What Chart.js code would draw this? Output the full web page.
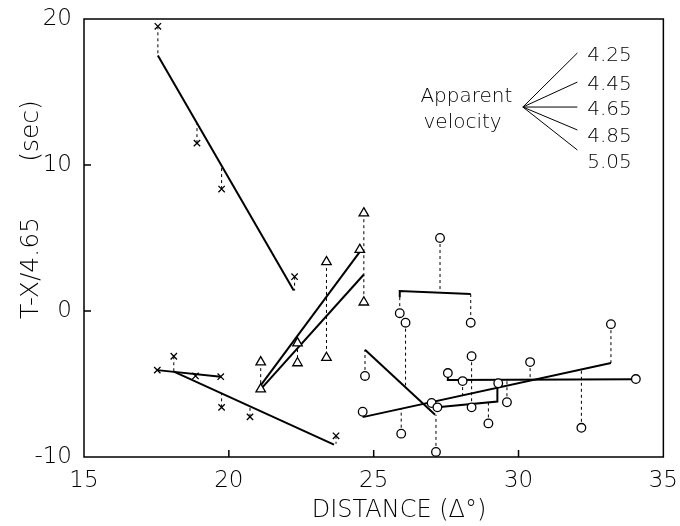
<!DOCTYPE html>
<html>
<head>
<meta charset="utf-8">
<script src="https://cdn.jsdelivr.net/npm/chart.js@4/dist/chart.umd.min.js"></script>
<style>body{margin:0;background:#fff}</style>
</head>
<body>
<canvas id="myChart" width="680" height="526"></canvas>
<script>
let crossX = [17.55, 18.9, 19.75, 22.27, 17.53, 18.1, 18.85, 19.72, 19.75, 20.73, 23.7];
let crossY = [19.5, 11.5, 8.35, 2.35, -4.05, -3.1, -4.45, -4.5, -6.6, -7.25, -8.55];

let triX = [21.1, 21.1, 22.37, 22.37, 23.37, 23.37, 24.52, 24.66, 24.66];
let triY = [-3.5, -5.35, -2.2, -3.56, 3.36, -3.2, 4.2, 6.7, 0.6];

let circX = [25.9, 26.1, 27.29, 28.35, 24.7, 24.62, 25.95, 27.15, 27.0, 27.2, 27.56, 28.07, 28.38, 28.38, 28.96, 29.3, 29.6, 30.4, 32.17, 33.19, 34.05];
let circY = [-0.15, -0.8, 5.0, -0.8, -4.45, -6.9, -8.4, -9.65, -6.3, -6.6, -4.25, -4.8, -3.1, -6.6, -7.7, -4.95, -6.25, -3.5, -8.0, -0.9, -4.66];

// fitted travel-time branches (solid)
let fitLines = [
  [[17.55, 17.5], [22.24, 1.4]],
  [[17.53, -4.05], [19.72, -4.5]],
  [[18.1, -4.15], [23.63, -9.15]],
  [[21.1, -5.1], [24.52, 4.05]],
  [[21.15, -5.25], [24.66, 2.5]],
  [[25.9, 0.95], [25.9, 1.37], [28.35, 1.16]],
  [[24.7, -2.65], [27.12, -7.1]],
  [[24.62, -7.27], [33.19, -3.56]],
  [[27.2, -6.6], [29.27, -6.2], [29.27, -4.9]],
  [[27.56, -4.3], [27.56, -4.72], [34.05, -4.68]]
];

// residual connectors (dashed): x, from y, to y
let connX = [17.55, 18.9, 19.75, 22.27, 18.1, 19.75, 20.73, 23.7, 21.1, 22.37, 23.37, 24.66, 25.9, 28.35, 27.29, 24.7, 27.15, 26.1, 25.95, 33.19, 32.17, 30.4, 28.07, 28.38, 28.96, 29.6];
let connFrom = [19.5, 11.5, 8.35, 2.35, -3.1, -6.6, -7.25, -8.55, -3.5, -2.2, 3.36, 6.7, 0.95, 1.16, 5.0, -4.45, -9.65, -0.8, -8.4, -0.9, -8.0, -3.5, -4.8, -3.1, -7.7, -6.25];
let connTo = [17.5, 12.85, 9.95, 1.4, -4.15, -5.65, -6.55, -9.1, -5.1, -3.56, -3.2, 0.6, -0.15, -0.8, 1.25, -2.65, -7.1, -5.1, -6.7, -3.56, -4.0, -4.77, -5.75, -6.6, -6.3, -4.8];

// apparent velocity fan
let velLabels = ['4.25', '4.45', '4.65', '4.85', '5.05'];
let fanOrigin = [30.15, 13.97];
let fanEndX = 32.03;
let fanEndY = [17.67, 15.68, 13.97, 12.4, 11.03];
let velLabelX = 32.37;
let velLabelY = [17.47, 15.48, 13.77, 11.92, 10.14];

let fontFamily = "'DejaVu Sans', sans-serif";
let fontWeight = 200;

let datasets = [];
datasets.push({
  data: crossX.map((v, i) => ({x: v, y: crossY[i]})),
  pointStyle: 'crossRot', pointRadius: 4.5, borderColor: '#000', borderWidth: 1.3, showLine: false
});
datasets.push({
  data: triX.map((v, i) => ({x: v, y: triY[i]})),
  pointStyle: 'triangle', pointRadius: 5.5, borderColor: '#000', backgroundColor: '#fff', borderWidth: 1.3, showLine: false
});
datasets.push({
  data: circX.map((v, i) => ({x: v, y: circY[i]})),
  pointStyle: 'circle', pointRadius: 4.3, borderColor: '#000', backgroundColor: '#fff', borderWidth: 1.3, showLine: false
});
fitLines.forEach(seg => {
  datasets.push({
    data: seg.map(p => ({x: p[0], y: p[1]})),
    showLine: true, borderColor: '#000', borderWidth: 2, pointRadius: 0
  });
});
connX.forEach((v, i) => {
  datasets.push({
    data: [{x: v, y: connFrom[i]}, {x: v, y: connTo[i]}],
    showLine: true, borderColor: '#000', borderWidth: 1, borderDash: [3, 3], pointRadius: 0
  });
});
fanEndY.forEach(v => {
  datasets.push({
    data: [{x: fanOrigin[0], y: fanOrigin[1]}, {x: fanEndX, y: v}],
    showLine: true, borderColor: '#000', borderWidth: 1, pointRadius: 0
  });
});

let annot = {
  id: 'annot',
  afterDraw(chart) {
    let ctx = chart.ctx;
    let a = chart.chartArea;
    let xs = chart.scales.x, ys = chart.scales.y;
    ctx.save();
    ctx.strokeStyle = '#000';
    ctx.lineWidth = 1.5;
    ctx.strokeRect(a.left, a.top, a.right - a.left, a.bottom - a.top);
    ctx.beginPath();
    xs.ticks.forEach(t => {
      if (t.value > xs.min && t.value < xs.max) {
        let px = xs.getPixelForValue(t.value);
        ctx.moveTo(px, a.bottom); ctx.lineTo(px, a.bottom - 7);
      }
    });
    ys.ticks.forEach(t => {
      if (t.value > ys.min && t.value < ys.max) {
        let py = ys.getPixelForValue(t.value);
        ctx.moveTo(a.left, py); ctx.lineTo(a.left + 7, py);
      }
    });
    ctx.stroke();

    ctx.fillStyle = '#000';
    ctx.font = fontWeight + ' 20px ' + fontFamily;
    ctx.textBaseline = 'middle';
    ctx.textAlign = 'left';
    velLabels.forEach((s, i) => {
      ctx.fillText(s, xs.getPixelForValue(velLabelX), ys.getPixelForValue(velLabelY[i]));
    });
    ctx.textAlign = 'center';
    ctx.fillText('Apparent', xs.getPixelForValue(28.2), ys.getPixelForValue(14.66));
    ctx.fillText('velocity', xs.getPixelForValue(28.07), ys.getPixelForValue(12.88));

    ctx.font = fontWeight + ' 24px ' + fontFamily;
    ctx.fillText('DISTANCE (\u0394\u00b0)', 399, 511);
    ctx.font = fontWeight + ' 25px ' + fontFamily;
    ctx.translate(31, 0);
    ctx.rotate(-Math.PI / 2);
    ctx.fillText('T-X/4.65', -268, 0);
    ctx.fillText('(sec)', -131, 0);
    ctx.restore();
  }
};

let myChart = new Chart(document.getElementById('myChart').getContext('2d'), {
  type: 'scatter',
  data: { datasets: datasets },
  options: {
    responsive: false,
    animation: false,
    layout: { padding: { top: 19, right: 10, left: 0, bottom: 0 } },
    plugins: { legend: { display: false }, tooltip: { enabled: false } },
    scales: {
      x: {
        min: 15, max: 35,
        grid: { display: false }, border: { display: false },
        ticks: { stepSize: 5, color: '#000', padding: 2, font: { size: 23, family: fontFamily, weight: fontWeight } },
        afterFit: s => { s.height = 69; }
      },
      y: {
        min: -10, max: 20,
        grid: { display: false }, border: { display: false },
        ticks: { stepSize: 10, color: '#000', padding: 4, font: { size: 23, family: fontFamily, weight: fontWeight } },
        afterFit: s => { s.width = 84; }
      }
    }
  },
  plugins: [annot]
});
</script>
</body>
</html>
